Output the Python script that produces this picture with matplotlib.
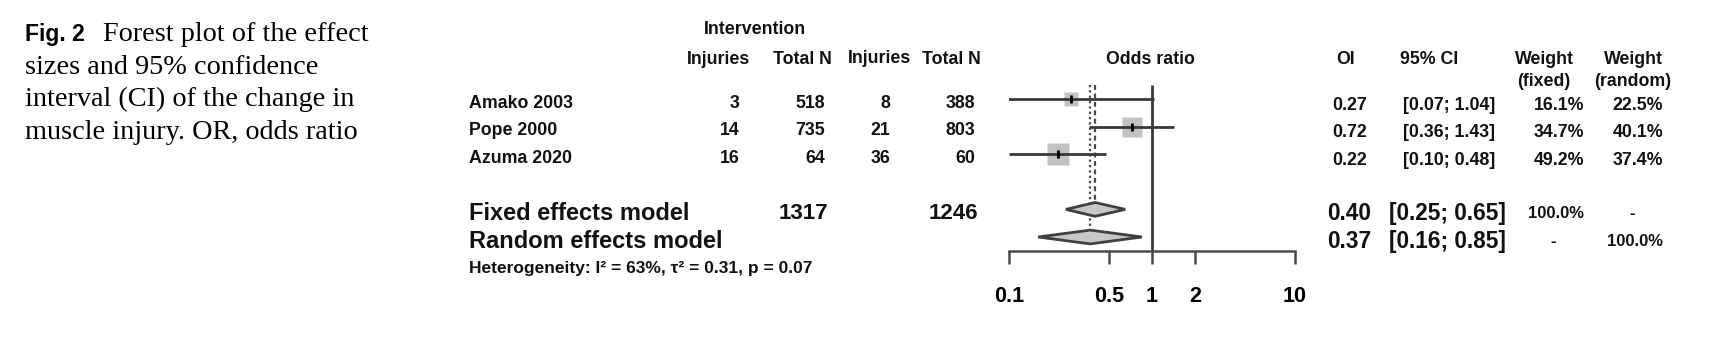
import numpy as np
import matplotlib.pyplot as plt
from matplotlib.patches import Polygon
from matplotlib.ticker import NullLocator
from matplotlib.transforms import blended_transform_factory

plt.rcParams['font.family'] = ['Liberation Sans', 'DejaVu Sans']

# data
studies = ["Amako 2003", "Pope 2000", "Azuma 2020"]
inj_int = [3, 14, 16]
n_int = [518, 735, 64]
inj_ctl = [8, 21, 36]
n_ctl = [388, 803, 60]
odds = [0.27, 0.72, 0.22]
ci_lo = [0.07, 0.36, 0.10]
ci_hi = [1.04, 1.43, 0.48]
w_fixed = [16.1, 34.7, 49.2]
w_random = [22.5, 40.1, 37.4]

fixed_or, fixed_lo, fixed_hi = 0.40, 0.25, 0.65
random_or, random_lo, random_hi = 0.37, 0.16, 0.85
total_int, total_ctl = 1317, 1246
hetero = "Heterogeneity: I² = 63%, τ² = 0.31, p = 0.07"

ticks = [0.1, 0.5, 1, 2, 10]
tick_labels = ["0.1", "0.5", "1", "2", "10"]

# layout (pixels)
W, H = 1735, 356
row0, pitch = 99, 27.6
fig = plt.figure(figsize=(W / 100, H / 100), dpi=100)

ax = fig.add_axes([1009 / W, 0, (1295 - 1009) / W, 1])
ax.set_xscale('log')
ax.set_xlim(0.1, 10)
ax.set_ylim((H - row0) / pitch, -row0 / pitch)
ax.patch.set_visible(False)

rows = np.arange(len(studies))
r_fix, r_ran, r_axis = 4, 5, 5.5
dark = '#383838'

# axis
for s in ['top', 'right', 'left']:
    ax.spines[s].set_visible(False)
ax.spines['bottom'].set_position(('data', r_axis))
ax.spines['bottom'].set_color('#4a4a4a')
ax.spines['bottom'].set_linewidth(1.8)
ax.set_xticks(ticks)
ax.set_xticklabels(tick_labels, fontsize=15.5, fontweight='bold')
ax.xaxis.set_minor_locator(NullLocator())
ax.tick_params(axis='x', length=9.5, width=1.8, color='#4a4a4a', pad=16)
ax.set_yticks([])

# reference lines
ax.vlines(1, -0.5, r_axis, color=dark, lw=2, zorder=1)
ax.vlines(random_or, -0.5, r_ran - 0.25, color='#4a4a4a', lw=1.6, linestyles=(0, (1, 1.4)), zorder=1)
ax.vlines(fixed_or, -0.5, r_fix - 0.25, color='#4a4a4a', lw=1.6, linestyles=(0, (2.2, 1.6)), zorder=1)

# studies
side = 23 * np.sqrt(np.array(w_fixed) / max(w_fixed)) * 0.72
for r, o, s in zip(rows, odds, side):
    ax.plot(o, r, marker='s', ms=s, color='#c2c2c2', mec='none', zorder=2)
ax.hlines(rows, ci_lo, ci_hi, color=dark, lw=2, zorder=3)
ax.plot(odds, rows, ls='none', marker='|', ms=6, mew=2, color='black', zorder=4)

# diamonds
for r, est, lo, hi in [(r_fix, fixed_or, fixed_lo, fixed_hi), (r_ran, random_or, random_lo, random_hi)]:
    h = 0.25
    ax.add_patch(Polygon([(lo, r), (est, r - h), (hi, r), (est, r + h)], closed=True,
                         facecolor='#c8c8c8', edgecolor='#404040', lw=2, zorder=3))

# text columns
tr = blended_transform_factory(fig.transFigure, ax.transData)
dy = 0.15


def put(xpx, row, s, size=12.8, ha='left', weight='bold'):
    ax.text(xpx / W, row, s, transform=tr, ha=ha, va='center', fontsize=size,
            fontweight=weight, color='#111111', clip_on=False)


hdr = (60 - row0) / pitch
put(755, (29 - row0) / pitch, "Intervention", ha='center')
put(718, hdr, "Injuries", ha='center')
put(802, hdr, "Total N", ha='center')
put(879, hdr - 0.07, "Injuries", ha='center')
put(951, hdr, "Total N", ha='center')
put(1150, hdr, "Odds ratio", ha='center')
put(1336, hdr, "OI")
put(1400, hdr, "95% CI")
put(1544, hdr, "Weight", ha='center')
put(1544, (82 - row0) / pitch, "(fixed)", ha='center')
put(1633, hdr, "Weight", ha='center')
put(1633, (82 - row0) / pitch, "(random)", ha='center')

for r, name, a, b, c, d, o, lo, hi, wf, wr in zip(rows, studies, inj_int, n_int, inj_ctl, n_ctl,
                                                  odds, ci_lo, ci_hi, w_fixed, w_random):
    y = r + dy
    put(469, y, name)
    put(740, y, str(a), ha='right')
    put(825, y, str(b), ha='right')
    put(890, y, str(c), ha='right')
    put(975, y, str(d), ha='right')
    put(1332, y + 0.07, f"{o:.2f}")
    put(1403, y + 0.07, f"[{lo:.2f}; {hi:.2f}]")
    put(1584, y + 0.07, f"{wf:.1f}%", ha='right')
    put(1663, y + 0.07, f"{wr:.1f}%", ha='right')

y = r_fix + dy
put(469, y, "Fixed effects model", size=17)
put(828, y, str(total_int), size=16, ha='right')
put(978, y, str(total_ctl), size=16, ha='right')
put(1327, y, f"{fixed_or:.2f}", size=16.3)
put(1389, y, f"[{fixed_lo:.2f}; {fixed_hi:.2f}]", size=16.3)
put(1584, y, "100.0%", size=12, ha='right')
put(1632, y, "-", size=12, ha='center')

y = r_ran + dy
put(469, y, "Random effects model", size=17)
put(1327, y, f"{random_or:.2f}", size=16.3)
put(1389, y, f"[{random_lo:.2f}; {random_hi:.2f}]", size=16.3)
put(1553, y, "-", size=12, ha='center')
put(1663, y, "100.0%", size=12, ha='right')

put(469, (268 - row0) / pitch, hetero, size=12.5)

# caption
serif = ['Liberation Serif', 'DejaVu Serif']
fig.text(25 / W, 1 - 41 / H, "Fig. 2", fontsize=16.5, fontweight='bold', va='baseline',
         family=['Liberation Sans', 'DejaVu Sans'])
fig.text(103 / W, 1 - 41 / H, "Forest plot of the effect", fontsize=20.3, va='baseline', family=serif)
fig.text(25 / W, 1 - 73.5 / H, "sizes and 95% confidence", fontsize=20.3, va='baseline', family=serif)
fig.text(25 / W, 1 - 106.5 / H, "interval (CI) of the change in", fontsize=20.3, va='baseline', family=serif)
fig.text(25 / W, 1 - 139 / H, "muscle injury. OR, odds ratio", fontsize=20.3, va='baseline', family=serif)

fig.savefig("out.png", dpi=100)
